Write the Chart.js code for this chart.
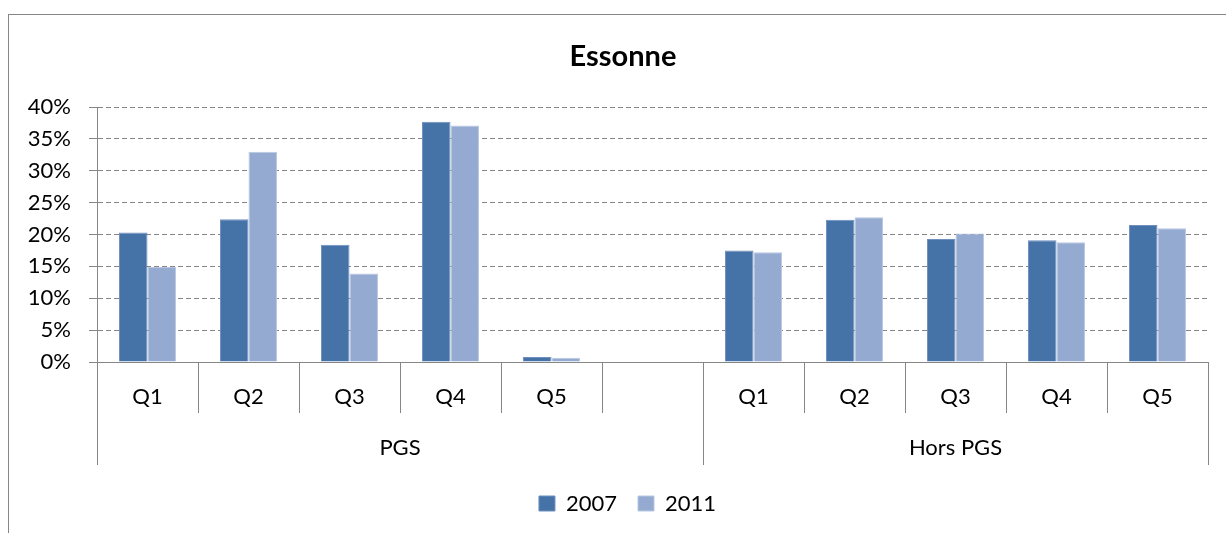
<!DOCTYPE html>
<html>
<head>
<meta charset="utf-8">
<script src="https://cdn.jsdelivr.net/npm/chart.js@4/dist/chart.umd.min.js"></script>
<style>
  html, body { margin: 0; padding: 0; background: #fff; overflow: hidden; }
  #frame { position: absolute; left: 8px; top: 14px; width: 1300px; height: 700px;
           border-left: 1px solid #868686; border-top: 1px solid #868686; }
  #c { position: absolute; left: 0; top: 0; }
</style>
</head>
<body>
<div id="frame"></div>
<canvas id="c" width="1226" height="533"></canvas>
<script>
// ---- data ----
const categories = ['Q1', 'Q2', 'Q3', 'Q4', 'Q5', '', 'Q1', 'Q2', 'Q3', 'Q4', 'Q5'];
const groupLabels = ['PGS', 'Hors PGS'];
const groupSizes = [6, 5];
const seriesNames = ['2007', '2011'];
const values2007 = [0.203, 0.224, 0.184, 0.377, 0.008, null, 0.175, 0.223, 0.193, 0.191, 0.215];
const values2011 = [0.149, 0.330, 0.139, 0.371, 0.0065, null, 0.172, 0.227, 0.2015, 0.188, 0.210];
const yTicks = [0, 0.05, 0.10, 0.15, 0.20, 0.25, 0.30, 0.35, 0.40];

// group boundaries / centers in category-index units
const groupBounds = [-0.5];
const groupCenters = [];
let acc = -0.5;
groupSizes.forEach(s => { groupCenters.push(acc + s / 2); acc += s; groupBounds.push(acc); });

const AXIS = '#868686';
const FONT = 'Lato, "Open Sans", sans-serif';

// centre title and legend on the whole chart frame (as the original does),
// not on the area left of the right padding
const centerPlugin = {
  id: 'centerBlocks',
  afterLayout(chart) {
    if (chart.titleBlock) chart.titleBlock.left = chart.chartArea.left - 59;
    if (chart.legend) chart.legend.left = chart.chartArea.left - 50;
  }
};

function draw() {
  Chart.defaults.font.family = FONT;
  Chart.defaults.font.size = 22;
  Chart.defaults.color = '#000';

  new Chart(document.getElementById('c'), {
    type: 'bar',
    plugins: [centerPlugin],
    data: {
      labels: categories,
      datasets: [
        { label: seriesNames[0], data: values2007, backgroundColor: '#4572A7',
          borderColor: '#6f8fbe', borderWidth: 1, xAxisID: 'x', yAxisID: 'y' },
        { label: seriesNames[1], data: values2011, backgroundColor: '#95AAD1',
          borderColor: '#b9c7e2', borderWidth: 1, xAxisID: 'x', yAxisID: 'y' }
      ]
    },
    options: {
      responsive: false,
      animation: false,
      devicePixelRatio: 1,
      categoryPercentage: 0.564,
      barPercentage: 1,
      layout: { padding: { left: 0, right: 18, top: 0, bottom: 8.5 } },
      plugins: {
        tooltip: { enabled: false },
        title: {
          display: true, text: 'Essonne', color: '#000',
          font: { size: 29, weight: 'bold', family: FONT },
          padding: { top: 39.6, bottom: 32.6 }
        },
        legend: {
          position: 'bottom',
          labels: { boxWidth: 16, boxHeight: 15, padding: 21, color: '#000',
                    font: { size: 22, family: FONT } }
        }
      },
      scales: {
        x: {
          type: 'category',
          position: 'bottom',
          offset: true,
          grid: { display: true, offset: true, drawOnChartArea: false, drawTicks: true,
                  tickLength: 51, color: AXIS, tickColor: AXIS, lineWidth: 1 },
          border: { display: true, color: AXIS, width: 1 },
          ticks: { autoSkip: false, maxRotation: 0, minRotation: 0, padding: -29.2,
                   color: '#000', font: { size: 22 } },
          afterFit: s => { s.height = 51; }
        },
        x2: {
          type: 'linear',
          position: 'bottom',
          offset: false,
          min: groupBounds[0],
          max: groupBounds[groupBounds.length - 1],
          bounds: 'data',
          afterBuildTicks: s => {
            const vals = groupBounds.concat(groupCenters).sort((a, b) => a - b);
            s.ticks = vals.map(v => ({ value: v }));
          },
          grid: {
            display: true, offset: false, drawOnChartArea: false, drawTicks: true, tickLength: 52, lineWidth: 1,
            color: ctx => (ctx.tick && groupBounds.includes(ctx.tick.value)) ? AXIS : 'rgba(0,0,0,0)',
            tickColor: ctx => (ctx.tick && groupBounds.includes(ctx.tick.value)) ? AXIS : 'rgba(0,0,0,0)'
          },
          border: { display: false },
          ticks: {
            autoSkip: false, maxRotation: 0, minRotation: 0, padding: -30.2,
            color: '#000', font: { size: 22 },
            callback: v => {
              const i = groupCenters.indexOf(v);
              return i >= 0 ? groupLabels[i] : '';
            }
          },
          afterFit: s => { s.height = 58.5; }
        },
        y: {
          type: 'linear',
          position: 'left',
          min: yTicks[0],
          max: yTicks[yTicks.length - 1],
          afterBuildTicks: s => { s.ticks = yTicks.map(v => ({ value: v })); },
          grid: { color: AXIS, lineWidth: 1, drawTicks: true, tickLength: 8,
                  tickColor: AXIS, tickBorderDash: [] },
          border: { display: true, color: AXIS, width: 1, dash: [5, 3] },
          ticks: { padding: 18, color: '#000', font: { size: 22 },
                   callback: v => Math.round(v * 100) + '%' },
          afterFit: s => { s.width = 97; }
        }
      }
    }
  });
}

if (document.fonts && document.fonts.load) {
  Promise.all([document.fonts.load('22px Lato'), document.fonts.load('bold 29px Lato')])
    .then(draw, draw);
} else { draw(); }
</script>
</body>
</html>
